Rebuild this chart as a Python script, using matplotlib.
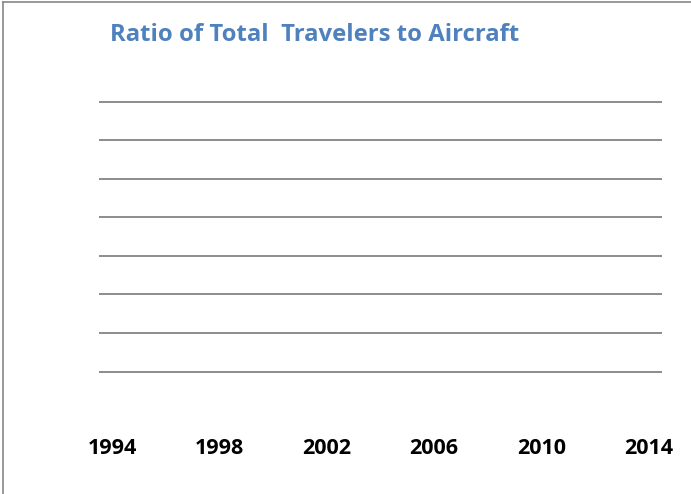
import matplotlib
matplotlib.use("Agg")
import matplotlib.pyplot as plt
from matplotlib.lines import Line2D

# chart text and categories
title = "Ratio of Total  Travelers to Aircraft"
years = list(range(1994, 2015))
label_years = [1994, 1998, 2002, 2006, 2010, 2014]
grid_levels = [1, 2, 3, 4, 5, 6, 7, 8]

W, H = 691, 494
fig = plt.figure(figsize=(W / 100, H / 100), dpi=100)
fig.patch.set_facecolor("white")

ax = fig.add_axes([99 / W, (H - 410) / H, (662 - 99) / W, (410 - 100) / H])
ax.set_xlim(-0.5, len(years) - 0.5)
top = max(grid_levels) * 310 / 308
ax.set_ylim(0, top)

# horizontal gridlines only, no data series shown
for lvl in grid_levels:
    ax.axhline(lvl, color="#8c8c8c", linewidth=1.4, zorder=1)

ax.set_xticks([years.index(y) for y in label_years])
ax.set_xticklabels([str(y) for y in label_years], fontfamily="Open Sans",
                   fontweight="bold", fontsize=15.5, color="black")
ax.tick_params(axis="x", length=0, pad=20)
ax.set_yticks([])
for s in ax.spines.values():
    s.set_visible(False)

fig.text(110 / W, (H - 41) / H, title, fontfamily="Open Sans", fontweight="bold",
         fontsize=17.2, color="#4f81bd", ha="left", va="baseline")

# outer frame (left and top edges visible)
fig.add_artist(Line2D([2.5 / W, 2.5 / W], [0, (H - 2.5) / H], transform=fig.transFigure,
                      color="#878787", linewidth=1.2))
fig.add_artist(Line2D([2.5 / W, 1], [(H - 2.5) / H, (H - 2.5) / H], transform=fig.transFigure,
                      color="#878787", linewidth=1.2))

fig.savefig("out.png", dpi=100)
